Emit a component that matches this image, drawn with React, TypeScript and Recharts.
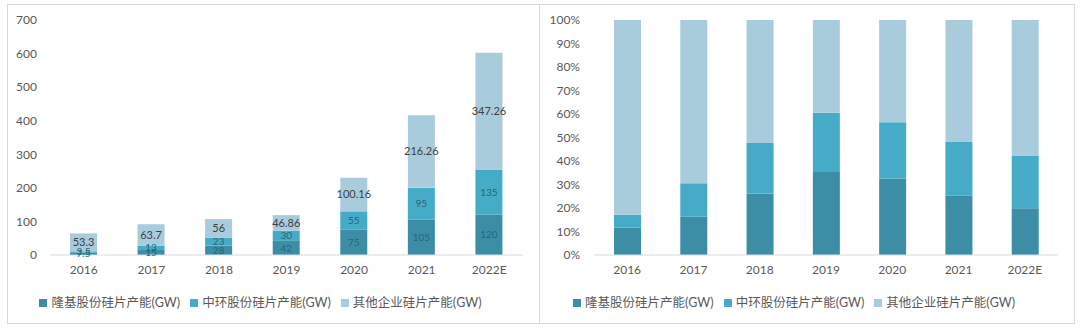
import React from 'react'
import { BarChart, Bar, XAxis, YAxis, Legend, LabelList } from 'recharts'

const years = ['2016', '2017', '2018', '2019', '2020', '2021', '2022E']
const longi = [7.5, 15, 28, 42, 75, 105, 120]
const zhonghuan = [3.5, 13, 23, 30, 55, 95, 135]
const others = [53.3, 63.7, 56, 46.86, 100.16, 216.26, 347.26]

const leftTicks = [0, 100, 200, 300, 400, 500, 600, 700]
const pctTicks = [0, 0.1, 0.2, 0.3, 0.4, 0.5, 0.6, 0.7, 0.8, 0.9, 1]

const seriesOrder = ['longi', 'zhonghuan', 'others']

const names = {
  longi: '隆基股份硅片产能(GW)',
  zhonghuan: '中环股份硅片产能(GW)',
  others: '其他企业硅片产能(GW)',
}

const colors = {
  longi: '#3b8ea6',
  zhonghuan: '#46abc6',
  others: '#a9ccdc',
}

const data = years.map((y, i) => ({
  year: y,
  longi: longi[i],
  zhonghuan: zhonghuan[i],
  others: others[i],
}))

const font = "Lato, 'Noto Sans CJK SC', sans-serif"
const tickStyle = { fill: '#595959', fontSize: 12 }

const legendText = (value: string) => (
  <span style={{ color: '#595959', fontSize: 12.5 }}>{value}</span>
)

const sortLegend = (item: any) => seriesOrder.indexOf(item.dataKey)

const panel: React.CSSProperties = {
  position: 'absolute',
  top: 4,
  height: 318,
  border: '1px solid #d9d9d9',
  background: '#fff',
}

export default function App() {
  return (
    <div style={{ position: 'relative', width: 1080, height: 329, fontFamily: font, background: '#fff' }}>
      <style>{'body{margin:0}'}</style>

      <div style={{ ...panel, left: 7, width: 531 }}>
        <BarChart width={531} height={318} data={data} margin={{ top: 15, right: 16, bottom: 38, left: 0 }} barSize={27}>
          <XAxis
            dataKey="year"
            axisLine={{ stroke: '#d9d9d9' }}
            tickLine={false}
            tickSize={0}
            tickMargin={10}
            tick={tickStyle}
            height={30}
          />
          <YAxis
            domain={[0, 700]}
            ticks={leftTicks}
            width={42}
            axisLine={false}
            tickLine={false}
            tickSize={0}
            tickMargin={13}
            tick={tickStyle}
          />
          <Legend
            layout="horizontal"
            verticalAlign="middle"
            align="center"
            iconType="square"
            iconSize={8}
            formatter={legendText}
            itemSorter={sortLegend}
            wrapperStyle={{ top: 286 }}
          />
          <Bar dataKey="longi" name={names.longi} stackId="a" fill={colors.longi} isAnimationActive={false}>
            <LabelList dataKey="longi" position="center" fill="#2a6577" fontSize={10} />
          </Bar>
          <Bar dataKey="zhonghuan" name={names.zhonghuan} stackId="a" fill={colors.zhonghuan} isAnimationActive={false}>
            <LabelList dataKey="zhonghuan" position="center" fill="#2a6577" fontSize={10} />
          </Bar>
          <Bar dataKey="others" name={names.others} stackId="a" fill={colors.others} isAnimationActive={false}>
            <LabelList dataKey="others" position="center" fill="#404040" fontSize={11} />
          </Bar>
        </BarChart>
      </div>

      <div style={{ ...panel, left: 539, width: 534 }}>
        <BarChart
          width={534}
          height={318}
          data={data}
          stackOffset="expand"
          margin={{ top: 15, right: 16, bottom: 38, left: 0 }}
          barSize={27}
        >
          <XAxis
            dataKey="year"
            axisLine={{ stroke: '#d9d9d9' }}
            tickLine={false}
            tickSize={0}
            tickMargin={10}
            tick={tickStyle}
            height={30}
          />
          <YAxis
            domain={[0, 1]}
            ticks={pctTicks}
            tickFormatter={(v: number) => `${Math.round(v * 100)}%`}
            width={54}
            axisLine={false}
            tickLine={false}
            tickSize={0}
            tickMargin={14}
            tick={tickStyle}
          />
          <Legend
            layout="horizontal"
            verticalAlign="middle"
            align="center"
            iconType="square"
            iconSize={8}
            formatter={legendText}
            itemSorter={sortLegend}
            wrapperStyle={{ top: 286 }}
          />
          <Bar dataKey="longi" name={names.longi} stackId="a" fill={colors.longi} isAnimationActive={false} />
          <Bar dataKey="zhonghuan" name={names.zhonghuan} stackId="a" fill={colors.zhonghuan} isAnimationActive={false} />
          <Bar dataKey="others" name={names.others} stackId="a" fill={colors.others} isAnimationActive={false} />
        </BarChart>
      </div>
    </div>
  )
}
